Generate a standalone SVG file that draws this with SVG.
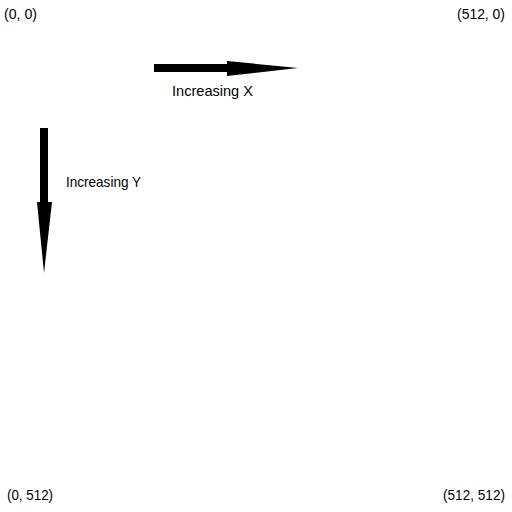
<svg xmlns="http://www.w3.org/2000/svg" width="512" height="512" viewBox="0 0 512 512">
<style>
text{font-family:"Liberation Sans",Arial,sans-serif;font-size:15px;fill:#000}
.arrow{fill:#000}
</style>
<rect width="512" height="512" fill="#fff"/>
<g id="connectors">
<polygon id="arrow-x" class="arrow" points="154,64 227,64 227,61 298,68 227,76 227,72 154,72"/>
<polygon id="arrow-y" class="arrow" points="40,128 48,128 48,202 52,202 44,273 37,202 40,202"/>
</g>
<g id="label-x"><text x="172" y="96" textLength="81" lengthAdjust="spacingAndGlyphs">Increasing X</text></g>
<g id="label-y"><text x="66" y="187" textLength="75" lengthAdjust="spacingAndGlyphs">Increasing Y</text></g>
<g id="corner-tl"><text x="4" y="19" textLength="33" lengthAdjust="spacingAndGlyphs">(0, 0)</text></g>
<g id="corner-tr"><text x="457" y="19" textLength="48" lengthAdjust="spacingAndGlyphs">(512, 0)</text></g>
<g id="corner-bl"><text x="7" y="500" textLength="46" lengthAdjust="spacingAndGlyphs">(0, 512)</text></g>
<g id="corner-br"><text x="443" y="500" textLength="62" lengthAdjust="spacingAndGlyphs">(512, 512)</text></g>
</svg>
